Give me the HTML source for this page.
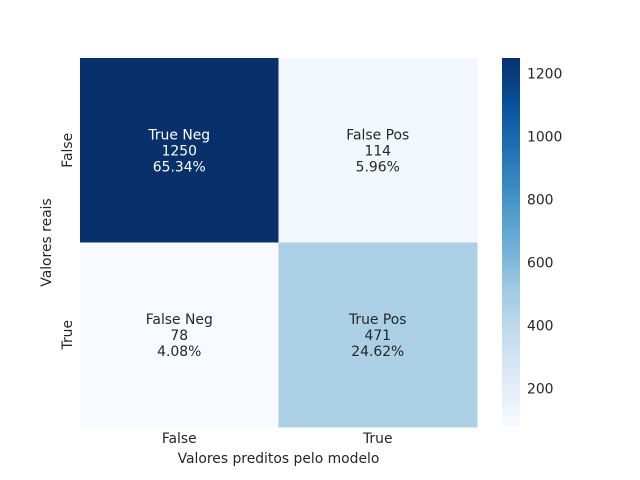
<!DOCTYPE html>
<html><head><meta charset="utf-8"><style>body{margin:0;background:#fff}svg{display:block;font-family:"DejaVu Sans","Liberation Sans",sans-serif}</style></head>
<body>
<svg id="c" width="640" height="480">
<defs><linearGradient id="g" x1="0" y1="1" x2="0" y2="0">
<stop offset="0" stop-color="#f7fbff"/><stop offset=".125" stop-color="#deebf7"/><stop offset=".25" stop-color="#c6dbef"/><stop offset=".375" stop-color="#9ecae1"/><stop offset=".5" stop-color="#6baed6"/><stop offset=".625" stop-color="#4292c6"/><stop offset=".75" stop-color="#2171b5"/><stop offset=".875" stop-color="#08519c"/><stop offset="1" stop-color="#08306b"/></linearGradient></defs>
</svg>
<script>
const labels=["False","True"];
const values=[[1250,114],[78,471]];
const names=[["True Neg","False Pos"],["False Neg","True Pos"]];
const cbTicks=[200,400,600,800,1000,1200];
const stops=["#f7fbff","#deebf7","#c6dbef","#9ecae1","#6baed6","#4292c6","#2171b5","#08519c","#08306b"];
const svg=document.getElementById('c');const NS="http://www.w3.org/2000/svg";
const FS=13.9;
function mk(t,a,p){const e=document.createElementNS(NS,t);for(const k in a)e.setAttribute(k,a[k]);(p||svg).appendChild(e);return e;}
const flat=values.flat(),vmin=Math.min(...flat),vmax=Math.max(...flat),tot=flat.reduce((a,b)=>a+b,0);
const L=80,T=58,W=397,H=369;const cw=W/2,ch=H/2;
function hex(h){return [1,3,5].map(i=>parseInt(h.substr(i,2),16));}
function color(v){let t=(v-vmin)/(vmax-vmin)*8;let i=Math.min(7,Math.floor(t)),f=t-i;const a=hex(stops[i]),b=hex(stops[i+1]);return 'rgb('+a.map((x,k)=>Math.round(x+(b[k]-x)*f)).join(',')+')';}
const cbY=v=>427-(v-vmin)/(vmax-vmin)*369;
for(let r=0;r<2;r++)for(let c=0;c<2;c++){const v=values[r][c];
const rc=mk('rect',{x:L+c*cw,y:T+r*ch,width:cw+0.5,height:ch+0.5,fill:color(v)});


const tc=(v-vmin)/(vmax-vmin)>0.6?'#fff':'#262626';
const lines=[names[r][c],String(v),(v/tot*100).toFixed(2)+'%'];
lines.forEach((s,i)=>{const t=mk('text',{x:L+c*cw+cw/2,y:T+r*ch+ch/2-16+i*16+5,'text-anchor':'middle','font-size':FS,fill:tc});t.textContent=s;

});}
labels.forEach((s,i)=>{const t=mk('text',{x:L+i*cw+cw/2,y:443,'text-anchor':'middle','font-size':FS,fill:'#262626'});t.textContent=s;


const y=T+i*ch+ch/2;const u=mk('text',{x:0,y:0,transform:'translate(72,'+y+') rotate(-90)','text-anchor':'middle','font-size':FS,fill:'#262626'});u.textContent=s;

});
const xt=mk('text',{x:L+W/2,y:463,'text-anchor':'middle','font-size':FS,fill:'#262626'});xt.textContent='Valores preditos pelo modelo';

const yt=mk('text',{transform:'translate(51,'+(T+H/2)+') rotate(-90)','text-anchor':'middle','font-size':FS,fill:'#262626'});yt.textContent='Valores reais';

const cb=mk('rect',{x:502,y:58,width:18,height:369,fill:'url(#g)'});

cbTicks.forEach(v=>{const t=mk('text',{x:527,y:cbY(v)+5,'font-size':FS,fill:'#262626'});t.textContent=v;

});
</script>
</body></html>
